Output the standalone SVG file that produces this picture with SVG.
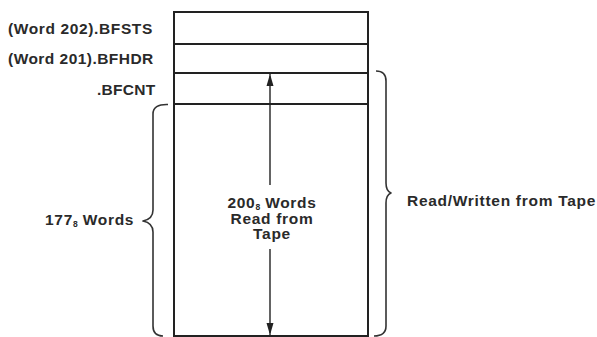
<svg xmlns="http://www.w3.org/2000/svg" width="597" height="337" viewBox="0 0 597 337">
<defs>
<style>
.t{font-family:"Liberation Sans",Arial,sans-serif;font-weight:bold;font-size:15.5px;fill:#2a2a2a;letter-spacing:0.7px}
.s{font-size:8.5px;letter-spacing:0}
.box{fill:none;stroke:#222;stroke-width:2}
.br{fill:none;stroke:#333;stroke-width:1.6;stroke-linejoin:round}
.ln{stroke:#222;stroke-width:1.4}
</style>
<marker id="ah" viewBox="0 0 10 12" refX="12" refY="6" markerWidth="10" markerHeight="12" markerUnits="userSpaceOnUse" orient="auto">
<path d="M0,2.5 L12,6 L0,9.5 Z" fill="#222"/>
</marker>
</defs>
<rect width="597" height="337" fill="#fff"/>
<g id="buffer">
<path class="box" d="M174,337 V12 H368 V337"/>
<line class="box" x1="174" y1="336" x2="368" y2="336"/>
</g>
<g id="bfsts">
<line class="box" x1="174" y1="44" x2="368" y2="44"/>
<text class="t" x="8" y="33.5" textLength="145" lengthAdjust="spacing">(Word 202).BFSTS</text>
</g>
<g id="bfhdr">
<line class="box" x1="174" y1="73" x2="368" y2="73"/>
<text class="t" x="8" y="64" textLength="146" lengthAdjust="spacing">(Word 201).BFHDR</text>
</g>
<g id="bfcnt">
<line class="box" x1="174" y1="104" x2="368" y2="104"/>
<text class="t" x="97" y="94.5" textLength="59" lengthAdjust="spacing">.BFCNT</text>
</g>
<g id="data">
<text class="t" x="272" y="208" text-anchor="middle">200<tspan class="s" dy="2">8</tspan><tspan dy="-2"> Words</tspan></text>
<text class="t" x="272" y="223.5" text-anchor="middle">Read from</text>
<text class="t" x="272" y="239" text-anchor="middle">Tape</text>
</g>
<g id="left-brace">
<path class="br" d="M168,104.5 Q153,104 153,114 V210 Q153,219 143,221 Q153,223 153,232 V326 Q153,336 163,336"/>
<text class="t" x="45" y="225">177<tspan class="s" dy="2">8</tspan><tspan dy="-2"> Words</tspan></text>
</g>
<g id="right-brace">
<path class="br" d="M376,71 Q386,71 386,81 V183 Q386,191 391,193 Q386,195 386,203 V326 Q386,336 374,336"/>
<text class="t" x="407" y="206" textLength="189" lengthAdjust="spacing">Read/Written from Tape</text>
</g>
<g id="connectors">
<line class="ln" x1="270" y1="185" x2="270" y2="74" marker-end="url(#ah)"/>
<line class="ln" x1="270" y1="249" x2="270" y2="335" marker-end="url(#ah)"/>
</g>
</svg>
